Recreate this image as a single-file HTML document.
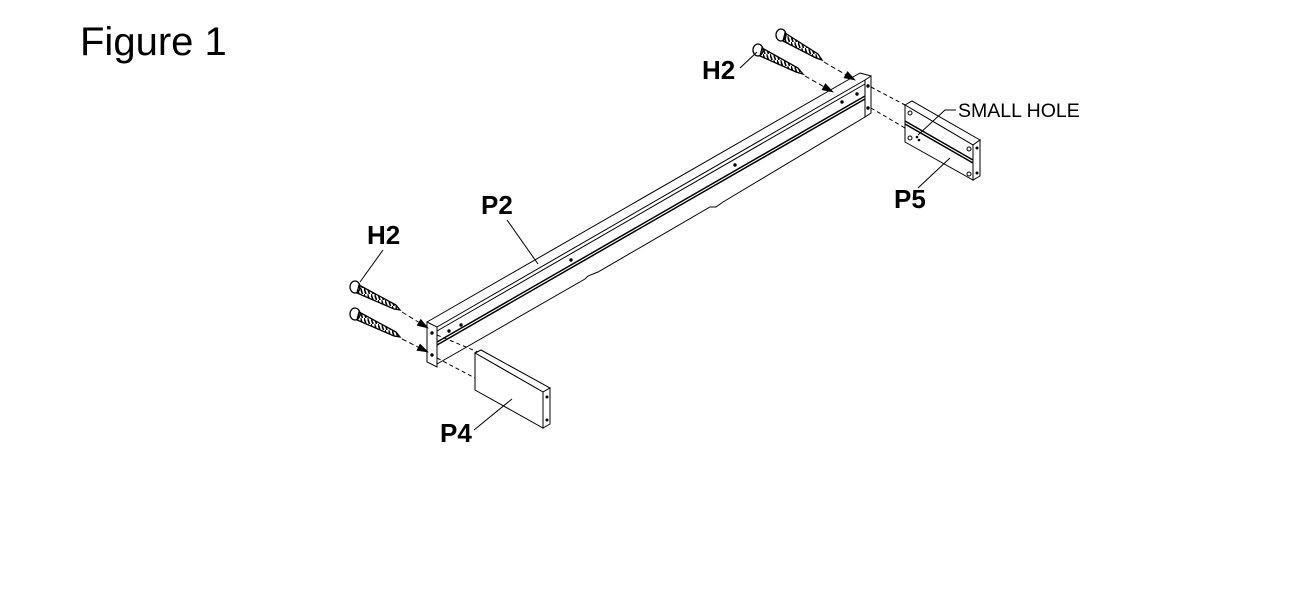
<!DOCTYPE html>
<html><head><meta charset="utf-8"><style>
html,body{margin:0;padding:0;background:#fff;}
svg{display:block;}
text{font-family:"Liberation Sans",Arial,sans-serif;fill:#000;}
</style></head><body>
<svg width="1294" height="602" viewBox="0 0 1294 602" xmlns="http://www.w3.org/2000/svg">
<defs>
<marker id="ah" markerWidth="12" markerHeight="8" refX="11" refY="4" orient="auto" markerUnits="userSpaceOnUse">
<path d="M0,0 L12,4 L0,8 Z" fill="#000"/></marker>
<pattern id="thr" width="3.5" height="6" patternUnits="userSpaceOnUse"><path d="M0,0 L2,6" stroke="#000" stroke-width="1.6"/></pattern>
</defs>
<text x="80" y="55" font-size="40">Figure 1</text>

<g stroke="#000" stroke-width="1" fill="none">
<polygon points="427,322 437,327 437,367 427,362" fill="#fff"/>
<line x1="427" y1="322" x2="860" y2="73"/>
<line x1="437" y1="327" x2="865" y2="80"/>
<line x1="437" y1="331" x2="865" y2="84"/>
<line x1="437" y1="342" x2="865" y2="96" stroke-width="1.5"/>
<line x1="437" y1="345" x2="865" y2="99" stroke-width="1.5"/>
<polyline points="437,364 585,279 588,276 598,272 710,207 716,207 723,202 865,117"/>
<polygon points="865,80 871,76 871,113 865,117" fill="#fff"/>
<line x1="860" y1="73" x2="871" y2="76"/>
<circle cx="449" cy="331" r="1.2" fill="#000"/>
<circle cx="461" cy="325" r="1.2" fill="#000"/>
<circle cx="571" cy="260" r="1.2" fill="#000"/>
<circle cx="735" cy="165" r="1.2" fill="#000"/>
<circle cx="842" cy="102" r="1.2" fill="#000"/>
<circle cx="857" cy="94" r="1.2" fill="#000"/>
<circle cx="432" cy="333" r="1.2" fill="#000"/>
<circle cx="432" cy="355" r="1.2" fill="#000"/>
<circle cx="868" cy="86" r="1.2" fill="#000"/>
<circle cx="868" cy="108" r="1.2" fill="#000"/>

<polygon points="475,353 481,350 550,388 543,392" fill="#fff"/>
<polygon points="475,353 543,392 543,428 475,390" fill="#fff"/>
<polygon points="543,392 550,388 550,424 543,428" fill="#fff"/>
<circle cx="547" cy="397" r="1" fill="#000"/><circle cx="547" cy="420" r="1" fill="#000"/>
<line x1="437" y1="335" x2="478" y2="352" stroke-dasharray="4,3"/>
<line x1="437" y1="358" x2="475" y2="378" stroke-dasharray="4,3"/>

<polygon points="905,105 912,101 980,140 973,145" fill="#fff"/>
<polygon points="905,105 973,145 973,180 905,142" fill="#fff"/>
<polygon points="973,145 980,140 980,176 973,180" fill="#fff"/>
<line x1="905" y1="121" x2="973" y2="160" stroke-width="1.5"/>
<line x1="905" y1="124" x2="973" y2="163" stroke-width="1.5"/>
<circle cx="910" cy="113" r="2"/><circle cx="969" cy="149" r="2"/>
<circle cx="910" cy="138" r="2"/><circle cx="969" cy="174" r="2"/>
<circle cx="977" cy="148" r="1" fill="#000"/><circle cx="977" cy="173" r="1" fill="#000"/>
<circle cx="917" cy="137" r="0.8" fill="#000"/><circle cx="919" cy="140" r="0.8" fill="#000"/>
<line x1="871" y1="87" x2="905" y2="105" stroke-dasharray="4,3"/>
<line x1="871" y1="108" x2="905" y2="128" stroke-dasharray="4,3"/>

<g stroke-width="1.3">
<ellipse cx="355" cy="287" rx="5" ry="6"/>
<polygon points="359,285 396,305 400,310 394,309 357,293" fill="url(#thr)"/>
<ellipse cx="355" cy="314" rx="5" ry="6"/>
<polygon points="359,312 396,332 400,337 394,336 357,320" fill="url(#thr)"/>
</g>
<line x1="402" y1="312" x2="428" y2="328" stroke-dasharray="5,3" marker-end="url(#ah)"/>
<line x1="402" y1="339" x2="428" y2="352" stroke-dasharray="5,3" marker-end="url(#ah)"/>
<g stroke-width="1.3">
<ellipse cx="781" cy="35" rx="5" ry="6"/>
<polygon points="785,33 818,54 822,60 816,58 783,41" fill="url(#thr)"/>
<ellipse cx="758" cy="50" rx="5" ry="6"/>
<polygon points="762,48 798,68 803,74 796,72 760,56" fill="url(#thr)"/>
</g>
<line x1="824" y1="62" x2="855" y2="80" stroke-dasharray="5,3" marker-end="url(#ah)"/>
<line x1="805" y1="76" x2="833" y2="92" stroke-dasharray="5,3" marker-end="url(#ah)"/>

<line x1="507" y1="220" x2="538" y2="264"/>
<line x1="383" y1="250" x2="360" y2="282"/>
<line x1="740" y1="68" x2="757" y2="52"/>
<line x1="474" y1="430" x2="512" y2="399"/>
<line x1="918" y1="188" x2="950" y2="158"/>
<polyline points="956,110 945,110 918,135"/>
</g>

<g font-weight="bold" font-size="26">
<text x="367" y="244">H2</text>
<text x="702" y="79">H2</text>
<text x="481" y="214">P2</text>
<text x="440" y="442">P4</text>
<text x="894" y="208">P5</text>
</g>
<text x="958" y="117" font-size="19.5">SMALL HOLE</text>
</svg>
</body></html>
